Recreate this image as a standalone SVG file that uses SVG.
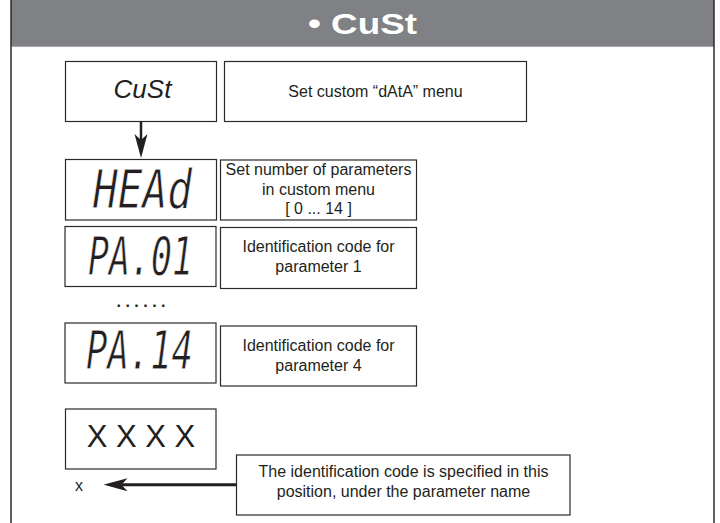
<svg xmlns="http://www.w3.org/2000/svg" width="720" height="523" viewBox="0 0 720 523">
<style>
.box{fill:#fff;stroke:#2a2a2a;stroke-width:1.2}
.t{font-family:"Liberation Sans",Arial,sans-serif;font-size:16px;fill:#231f20;text-anchor:middle}
.seg{font-family:"DejaVu Sans Mono",monospace;font-style:italic;font-size:54px;fill:#231f20;stroke:#fff;stroke-width:0.8}
.frame{stroke:#2a2a2a;stroke-width:1.5;fill:none}
.conn{stroke:#231f20;fill:none}
</style>
<defs>
<marker id="ah" markerUnits="userSpaceOnUse" viewBox="0 -7 26 14" markerWidth="26" markerHeight="14" refX="8" refY="0" orient="auto">
<path d="M26,0 L2,-6.5 L8,0 L2,6.5 Z" fill="#231f20"/>
</marker>
</defs>
<rect x="0" y="0" width="720" height="523" fill="#fff"/>
<g id="frame">
<rect x="11" y="0" width="703" height="46.7" fill="#808184"/>
<line class="frame" x1="11" y1="0" x2="11" y2="523"/>
<line class="frame" x1="714" y1="0" x2="714" y2="523"/>
<text x="362.5" y="33.5" font-family="Liberation Sans,Arial,sans-serif" font-weight="bold" font-size="30" fill="#fff" text-anchor="middle" textLength="109" lengthAdjust="spacingAndGlyphs">• CuSt</text>
</g>
<g id="cust-key">
<rect class="box" x="65.5" y="61.5" width="151" height="60"/>
<text class="t" x="142.5" y="98" font-style="italic" style="font-size:26px">CuSt</text>
</g>
<g id="cust-desc">
<rect class="box" x="224.5" y="61.5" width="302" height="60"/>
<text class="t" x="375.5" y="96.5">Set custom “dAtA” menu</text>
</g>
<g id="head-key">
<rect class="box" x="65.5" y="159.5" width="151" height="60.5"/>
<text class="seg" x="93" y="208" textLength="99" lengthAdjust="spacingAndGlyphs">HEAd</text>
</g>
<g id="head-desc">
<rect class="box" x="220.5" y="160" width="196" height="60"/>
<text class="t" x="318.5" y="175">Set number of parameters</text>
<text class="t" x="318.5" y="194.5">in custom menu</text>
<text class="t" x="318.5" y="213.5">[ 0 ... 14 ]</text>
</g>
<g id="pa01-key">
<rect class="box" x="65" y="226.5" width="151" height="60"/>
<text class="seg" x="88" y="275" textLength="105" lengthAdjust="spacingAndGlyphs">PA.01</text>
</g>
<g id="pa01-desc">
<rect class="box" x="220.5" y="227.5" width="196" height="61"/>
<text class="t" x="318.5" y="251.5">Identification code for</text>
<text class="t" x="318.5" y="271.5">parameter 1</text>
</g>
<g id="ellipsis">
<text class="t" x="141" y="307" font-weight="bold" textLength="49" lengthAdjust="spacing">......</text>
</g>
<g id="pa14-key">
<rect class="box" x="65" y="323" width="151" height="60"/>
<text class="seg" x="86" y="369" textLength="107" lengthAdjust="spacingAndGlyphs">PA.14</text>
</g>
<g id="pa14-desc">
<rect class="box" x="220.5" y="326" width="196" height="60"/>
<text class="t" x="318.5" y="350.5">Identification code for</text>
<text class="t" x="318.5" y="370.5">parameter 4</text>
</g>
<g id="xxxx">
<rect class="box" x="65.5" y="409" width="150.5" height="60"/>
<text class="t" x="141" y="446.5" style="font-size:31px">X X X X</text>
</g>
<g id="x-label">
<text class="t" x="79" y="491">x</text>
</g>
<g id="note">
<rect class="box" x="236.5" y="455" width="333.5" height="60"/>
<text class="t" x="403.5" y="476.5">The identification code is specified in this</text>
<text class="t" x="403.5" y="496.5">position, under the parameter name</text>
</g>
<g id="connectors">
<line class="conn" stroke-width="2.5" x1="141" y1="121.5" x2="141" y2="140" marker-end="url(#ah)"/>
<line class="conn" stroke-width="3" x1="236" y1="484.7" x2="121.5" y2="484.7" marker-end="url(#ah)"/>
</g>
</svg>
